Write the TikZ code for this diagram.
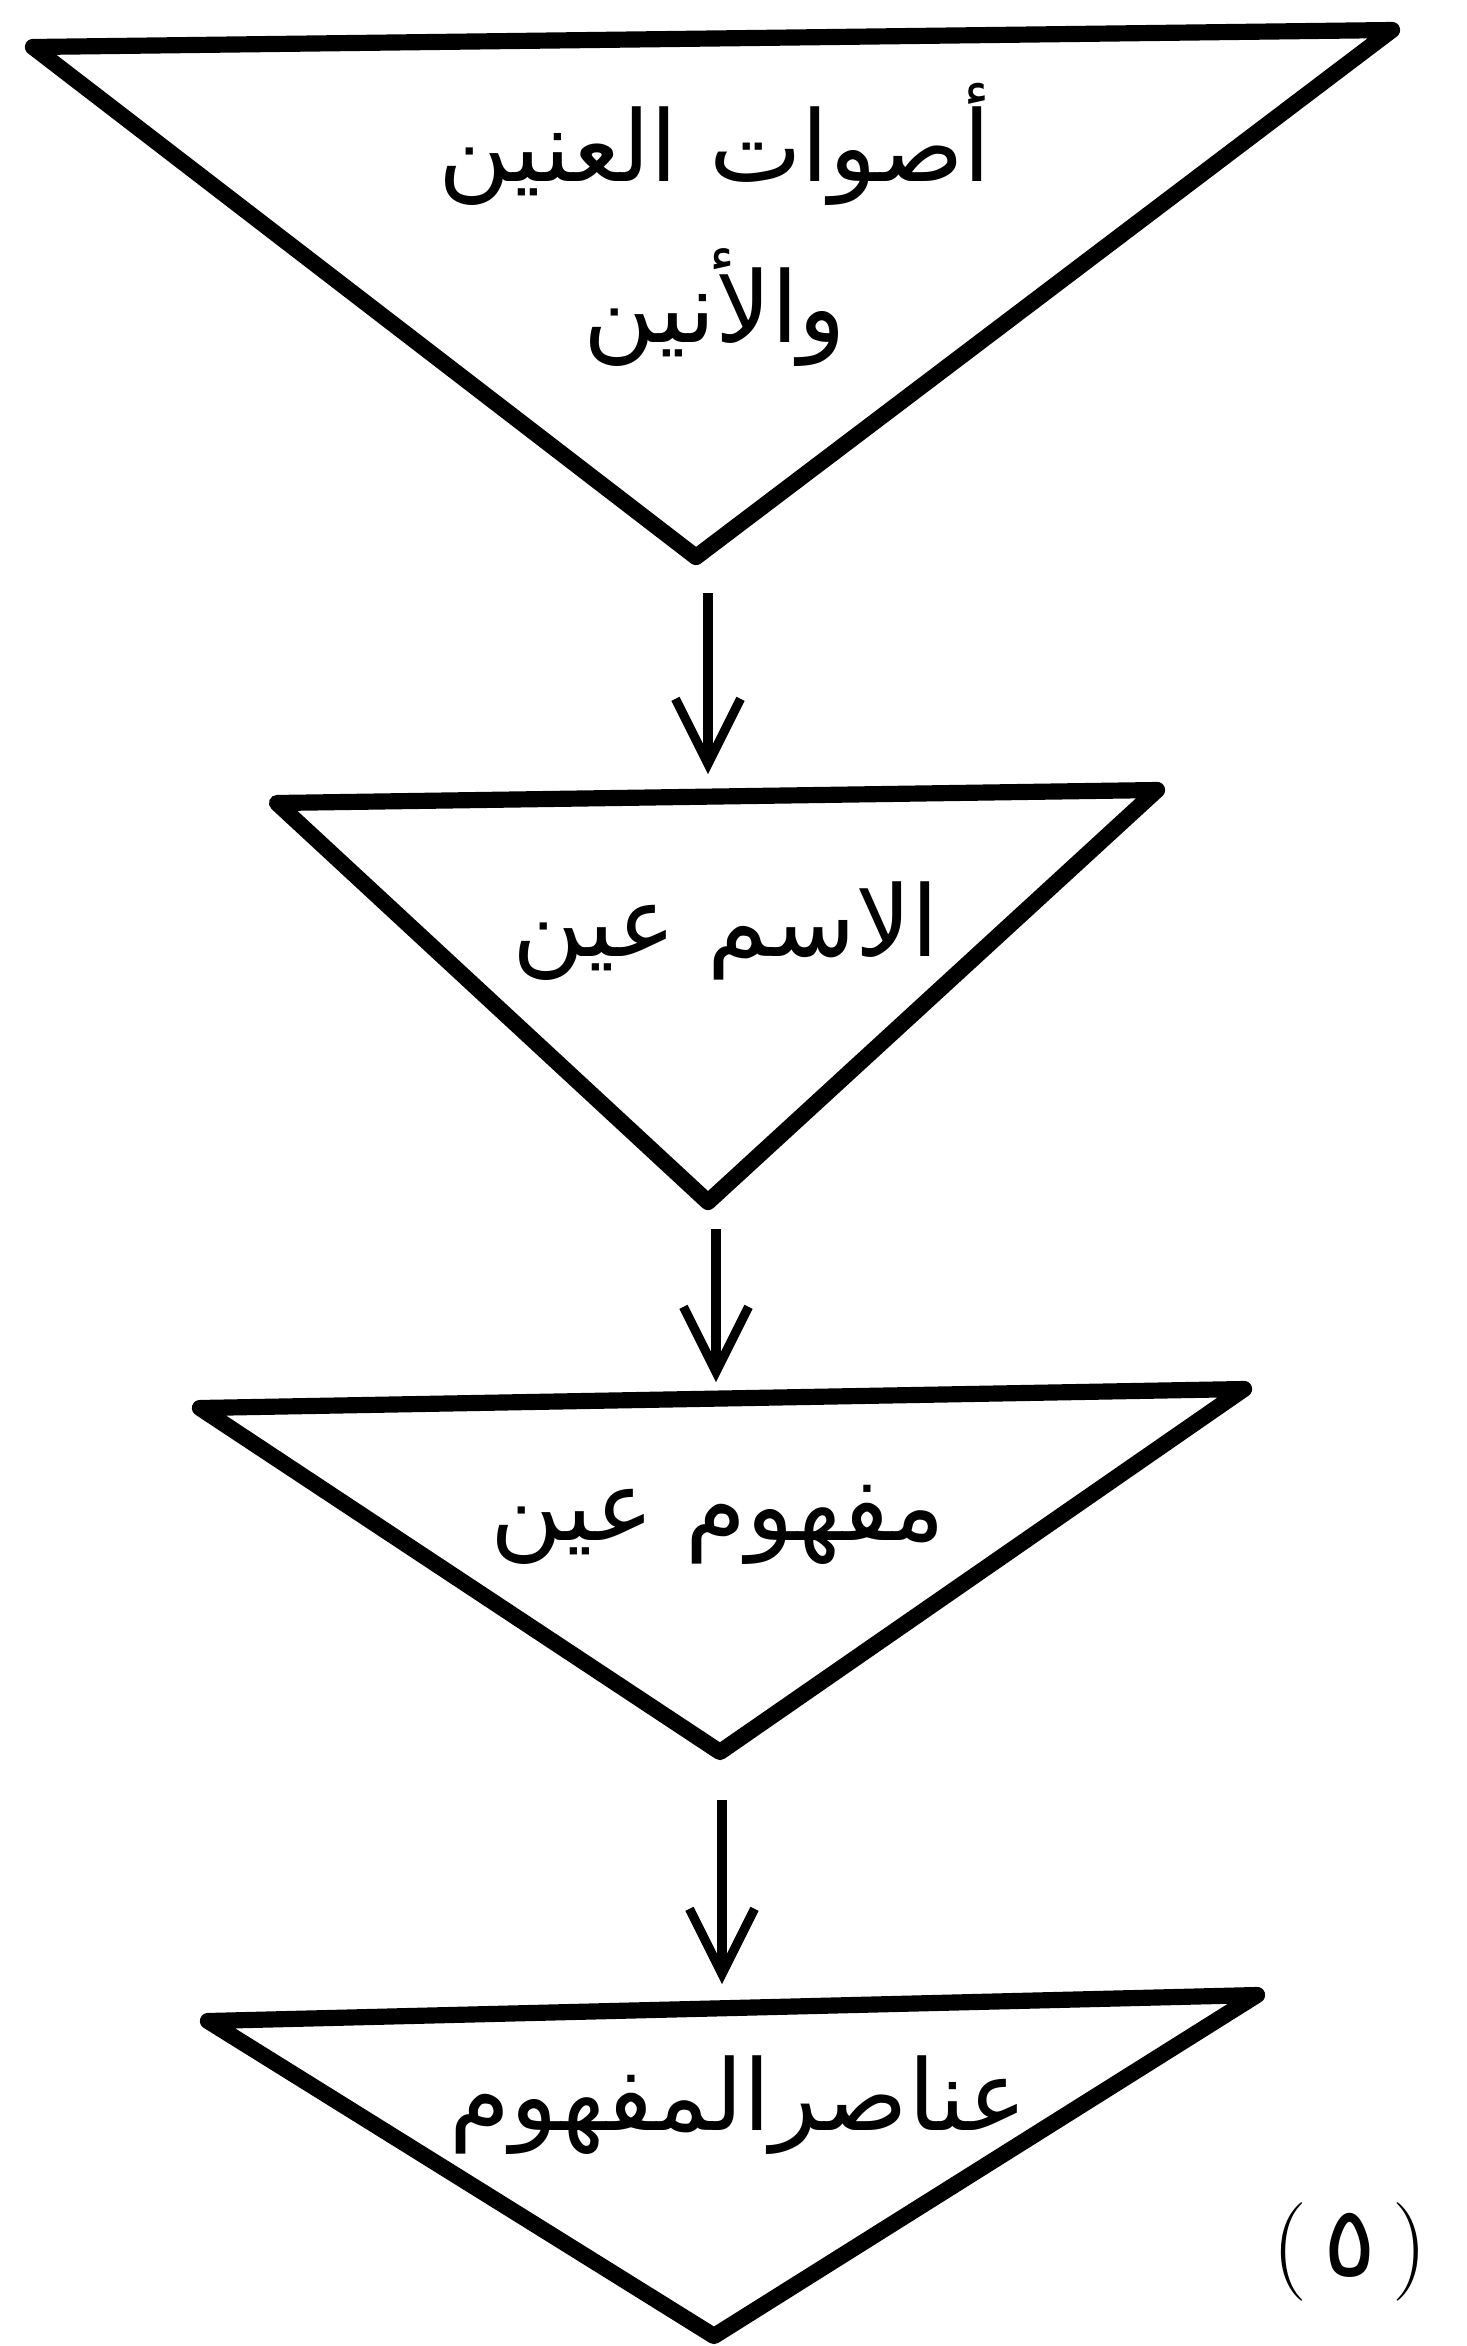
\documentclass[tikz,border=0pt]{standalone}
\usepackage{fontspec}
\newfontfamily\arabicfont[Script=Arabic]{DejaVu Sans}
\TeXXeTstate=1
\usetikzlibrary{arrows.meta}
\begin{document}
\begin{tikzpicture}[
	tri/.style={line width=4.6pt,line join=round},
	arr/.style={line width=2.6pt,-{Straight Barb[length=6.5mm,width=6.5mm]}},
	lbl/.style={font=\arabicfont\fontsize{28}{46}\selectfont,align=center,inner sep=0pt}]
	\useasboundingbox (0,0) rectangle (14.67,-23.46);
	\coordinate (t1l) at (0.33,-0.47);
	\coordinate (t1r) at (13.92,-0.30);
	\coordinate (t1a) at (6.96,-5.57);
	\coordinate (t2l) at (2.77,-8.03);
	\coordinate (t2r) at (11.57,-7.90);
	\coordinate (t2a) at (7.08,-12.02);
	\coordinate (t3l) at (2.00,-14.08);
	\coordinate (t3r) at (12.44,-13.89);
	\coordinate (t3a) at (7.20,-17.52);
	\coordinate (t4l) at (2.08,-20.21);
	\coordinate (t4r) at (12.57,-19.95);
	\coordinate (t4a) at (7.14,-23.36);
	\draw[tri] (t1l) -- (t1r) -- (t1a) -- cycle;
	\draw[tri] (t2l) -- (t2r) -- (t2a) -- cycle;
	\draw[tri] (t3l) -- (t3r) -- (t3a) -- cycle;
	\draw[tri] (t4l) -- (t4r) -- (t4a) -- cycle;
	\node[lbl] (sounds) at (7.15,-2.25) {\beginR أصوات العنين\endR\\\beginR والأنين\endR};
	\node[lbl] (name) at (7.26,-9.31) {\beginR الاسم عين\endR};
	\node[lbl] (concept) at (7.18,-15.25) {\beginR مفهوم عين\endR};
	\node[lbl] (elements) at (7.38,-21.05) {\beginR عناصرالمفهوم\endR};
	\node[lbl] (fignum) at (13.5,-22.52) {{\rmfamily(}\,٥\,{\rmfamily)}};
	\coordinate (a1s) at (7.08,-5.93);
	\coordinate (a1e) at (7.08,-7.74);
	\coordinate (a2s) at (7.16,-12.29);
	\coordinate (a2e) at (7.16,-13.82);
	\coordinate (a3s) at (7.22,-18.00);
	\coordinate (a3e) at (7.22,-19.84);
	\draw[arr] (a1s) -- (a1e);
	\draw[arr] (a2s) -- (a2e);
	\draw[arr] (a3s) -- (a3e);
\end{tikzpicture}
\end{document}
